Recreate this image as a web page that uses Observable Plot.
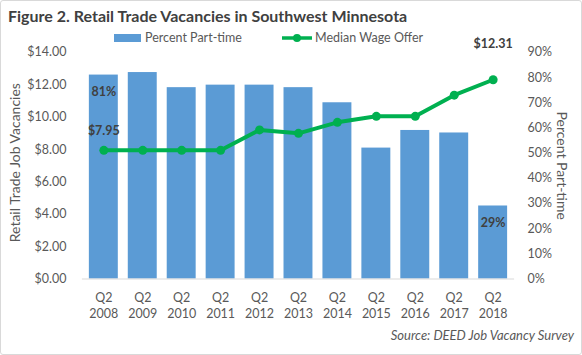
<!DOCTYPE html>
<html>
<head>
<meta charset="utf-8">
<script src="https://cdn.jsdelivr.net/npm/d3@7"></script>
<script src="https://cdn.jsdelivr.net/npm/@observablehq/plot@0.6"></script>
<style>
  html, body { margin: 0; padding: 0; background: #fff; }
  #wrap { position: relative; width: 580px; height: 353px; border: 1px solid #D9D9D9; border-radius: 3px; overflow: hidden; font-family: Lato, "Open Sans", sans-serif; color: #595959; }
  #chart { position: absolute; left: -1px; top: -1px; }
  .title { position: absolute; left: 7px; top: 5px; font-size: 16px; font-weight: bold; color: #404040; white-space: nowrap; }
  .legend { position: absolute; top: 29px; font-size: 12.5px; white-space: nowrap; display: flex; align-items: center; }
  .source { position: absolute; right: 7px; top: 326px; font-size: 13px; font-style: italic; white-space: nowrap; }
</style>
</head>
<body>
<div id="wrap">
  <div id="chart"></div>
  <div class="title">Figure 2. Retail Trade Vacancies in Southwest Minnesota</div>
  <div class="legend" style="left:113px"><span style="display:inline-block;width:27px;height:8px;background:#5B9BD5;margin-right:4px"></span>Percent Part-time</div>
  <div class="legend" style="left:280px"><svg width="32" height="10" style="margin-right:2px"><line x1="1" y1="5" x2="31" y2="5" stroke="#00B050" stroke-width="3.5"/><circle cx="16" cy="5" r="4" fill="#00B050"/></svg>Median Wage Offer</div>
  <div class="source">Source: DEED Job Vacancy Survey</div>
</div>
<script>
const periods = ["2008","2009","2010","2011","2012","2013","2014","2015","2016","2017","2018"];
const partTimePct = [81, 82, 76, 77, 77, 76, 70, 52, 59, 58, 29];
const medianWage = [7.95, 7.95, 7.95, 7.95, 9.21, 9.00, 9.68, 10.05, 10.05, 11.36, 12.31];
const wageTicks = [0, 2, 4, 6, 8, 10, 12, 14];
const pctTicks = [0, 10, 20, 30, 40, 50, 60, 70, 80, 90];

const WMAX = 14, PMAX = 90;
const toW = p => p / PMAX * WMAX;
const rows = periods.map((yr, i) => ({yr, pct: partTimePct[i], wage: medianWage[i]}));
const labelIdx = [0, periods.length - 1];
const labelRows = rows.filter((d, i) => labelIdx.includes(i));

const font = "Lato, 'Open Sans', sans-serif";
const chart = Plot.plot({
  width: 582,
  height: 355,
  marginTop: 52,
  marginBottom: 76,
  marginLeft: 82,
  marginRight: 67,
  style: {fontFamily: font, fontSize: "12.5px", color: "#595959", background: "transparent"},
  x: {domain: periods, paddingInner: 0.26, paddingOuter: 0.13, label: null},
  y: {domain: [0, WMAX], label: null},
  marks: [
    Plot.gridY(wageTicks, {stroke: "#D9D9D9", strokeOpacity: 1, x1: 80, x2: 516}),
    Plot.barY(rows, {x: "yr", y: d => toW(d.pct), fill: "#5B9BD5"}),
    Plot.ruleY([0], {stroke: "#D9D9D9"}),
    Plot.line(rows, {x: "yr", y: "wage", stroke: "#00B050", strokeWidth: 4}),
    Plot.dot(rows, {x: "yr", y: "wage", fill: "#00B050", r: 4.5}),
    Plot.axisY({anchor: "left", ticks: wageTicks, tickSize: 0, tickPadding: 16, tickFormat: d => "$" + d.toFixed(2), fontSize: 12.5, label: null}),
    Plot.axisY({anchor: "right", ticks: pctTicks.map(toW), tickSize: 0, tickPadding: 13, tickFormat: v => Math.round(v / WMAX * PMAX) + "%", fontSize: 12.5, label: null}),
    Plot.text(["Retail Trade Job Vacancies"], {frameAnchor: "left", textAnchor: "middle", dx: -67, dy: -3, rotate: -90, fontSize: 14, fill: "#595959"}),
    Plot.text(["Percent Part-time"], {frameAnchor: "right", textAnchor: "middle", dx: 47, dy: 0, rotate: 90, fontSize: 14, fill: "#595959"}),
    Plot.axisX({tickSize: 0, tickPadding: 12, tickFormat: d => "Q2\n" + d, fontSize: 12.5, lineHeight: 1.25, label: null}),
    Plot.text(labelRows, {x: "yr", y: d => toW(d.pct), text: d => d.pct + "%", dy: 17, fill: "#404040", fontWeight: "bold", fontSize: 12.5}),
    Plot.text(labelRows.slice(0,1), {x: "yr", y: "wage", text: d => "$" + d.wage.toFixed(2), dy: -19, fill: "#404040", fontWeight: "bold", fontSize: 12.5}),
    Plot.text(labelRows.slice(1), {x: "yr", y: "wage", text: d => "$" + d.wage.toFixed(2), dy: -36, fill: "#404040", fontWeight: "bold", fontSize: 12.5})
  ]
});
document.getElementById("chart").appendChild(chart);
</script>
</body>
</html>
